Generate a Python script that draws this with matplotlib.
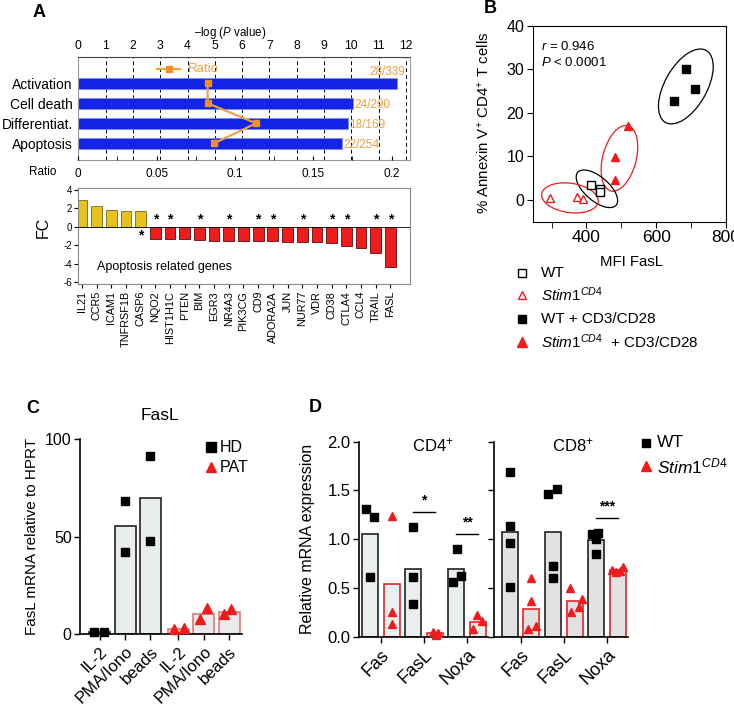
import matplotlib
matplotlib.use("Agg")
import matplotlib.pyplot as plt
import numpy as np
from matplotlib.lines import Line2D
from matplotlib.patches import Ellipse

plt.rcParams['font.family'] = ['Liberation Sans', 'DejaVu Sans']
plt.rcParams['mathtext.fontset'] = 'custom'
plt.rcParams['mathtext.rm'] = 'Liberation Sans'
plt.rcParams['mathtext.it'] = 'Liberation Sans:italic'
plt.rcParams['mathtext.bf'] = 'Liberation Sans:bold'
plt.rcParams['axes.unicode_minus'] = False

# ---- data: panel A (pathways) ----
pathways = ['Activation', 'Cell death', 'Differentiat.', 'Apoptosis']
neg_log_p = [11.67, 10.08, 9.88, 9.67]
ratio = [0.0826, 0.0826, 0.1135, 0.0867]
counts = ['28/339', '24/290', '18/169', '22/254']

# ---- data: panel A (apoptosis genes) ----
genes = ['IL21', 'CCR5', 'ICAM1', 'TNFRSF1B', 'CASP6', 'NQO2', 'HIST1H1C', 'PTEN',
         'BIM', 'EGR3', 'NR4A3', 'PIK3CG', 'CD9', 'ADORA2A', 'JUN', 'NUR77', 'VDR',
         'CD38', 'CTLA4', 'CCL4', 'TRAIL', 'FASL']
fc = [2.87, 2.29, 1.82, 1.75, 1.71, -1.35, -1.35, -1.35, -1.38, -1.49, -1.49, -1.53,
      -1.56, -1.56, -1.6, -1.6, -1.6, -1.78, -2.1, -2.33, -2.84, -4.4]
fc_sig = [0, 0, 0, 0, 1, 1, 1, 0, 1, 0, 1, 0, 1, 1, 0, 1, 0, 1, 1, 0, 1, 1]

# ---- data: panel B ----
wt_mfi, wt_ann = [412, 438, 438], [3.4, 2.5, 1.8]
ko_mfi, ko_ann = [295, 372, 390], [0.5, 0.6, 0.3]
wt_st_mfi, wt_st_ann = [652, 686, 712], [22.7, 30.2, 25.4]
ko_st_mfi, ko_st_ann = [481, 481, 519], [4.5, 9.8, 17.1]

# ---- data: panel C ----
c_labels = ['IL-2', 'PMA/Iono', 'beads']
c_hd = [[1.0, 1.0], [68.2, 42.3], [91.5, 47.9]]
c_pat = [[2.5, 3.0], [7.7, 13.6], [10.4, 12.8]]

# ---- data: panel D ----
d_genes = ['Fas', 'FasL', 'Noxa']
d_cd4_wt = [[1.31, 1.23, 0.615], [1.13, 0.61, 0.335], [0.896, 0.565, 0.62]]
d_cd4_ko = [[1.24, 0.256, 0.127], [0.05, 0.02, 0.04], [0.075, 0.22, 0.16]]
d_cd8_wt = [[1.686, 1.138, 0.964, 0.513], [1.46, 1.51, 0.725, 0.6], [1.05, 1.06, 1.0, 0.85]]
d_cd8_ko = [[0.6, 0.37, 0.076, 0.11], [0.496, 0.256, 0.308, 0.387], [0.68, 0.66, 0.67, 0.71]]

# point spread inside each bar (layout only)
c_hd_dx = [[-0.22, 0.17], [0, 0], [0, 0]]
c_pat_dx = [[-0.16, 0.21], [-0.16, 0.15], [-0.21, 0.09]]
d_cd4_wt_dx = [[-0.19, 0.19, 0], [0, 0, 0], [0.02, -0.17, 0.2]]
d_cd4_ko_dx = [[0, 0, 0], [-0.09, 0.05, 0.14], [-0.22, -0.05, 0.2]]
d_cd8_wt_dx = [[0, 0, 0, 0], [-0.21, 0.17, 0, 0], [-0.2, 0.1, 0, 0]]
d_cd8_ko_dx = [[0, 0, -0.17, 0.2], [-0.21, -0.18, 0.19, 0.36], [-0.28, -0.08, 0.11, 0.23]]

W, H = 734, 717
fig = plt.figure(figsize=(W / 100, H / 100), dpi=100)


def rect(l, t, r, b):
    return [l / W, 1 - b / H, (r - l) / W, (b - t) / H]


def fx(x):
    return x / W


def fy(y):
    return 1 - y / H


def legend_row(x_m, x_t, y, label, size, **mk):
    fig.add_artist(Line2D([fx(x_m)], [fy(y)], ls='none', transform=fig.transFigure, **mk))
    fig.text(fx(x_t), fy(y), label, fontsize=size, va='center', ha='left')


blue = '#1424e6'
orange = '#f0a040'
red = '#ee1c1c'
yellow = '#e6c31c'

# ================= Panel A (top) =================
ax_p = fig.add_axes(rect(78.3, 56.5, 410, 160))
ax_r = ax_p.twiny()
ypos = np.arange(len(pathways))
ax_p.barh(ypos, neg_log_p, height=0.55, color=blue, edgecolor='#7f8cf0', lw=0.6, zorder=2)
for v in range(1, 13):
    ax_p.axvline(v, ls=(0, (4, 3)), color='k', lw=0.7, zorder=0)
ax_p.set_xlim(0, 12.15)
ax_p.set_ylim(3.83, -1.33)
ax_p.xaxis.tick_top()
ax_p.set_xticks(range(13))
ax_p.tick_params(axis='x', length=0, pad=3, labelsize=8.8)
ax_p.set_yticks(ypos, pathways)
ax_p.tick_params(axis='y', length=0, pad=4, labelsize=10)
for s in ax_p.spines.values():
    s.set_color('#999999')
    s.set_linewidth(0.8)
ax_p.spines['top'].set_color('#444444')
for i, c in enumerate(counts):
    if i == 0:
        ax_p.text(neg_log_p[i] + 0.3, i - 0.58, c, color=orange, fontsize=8.5, ha='right', va='center')
    else:
        ax_p.text(neg_log_p[i] + 0.05, i + 0.07, c, color=orange, fontsize=8.5, ha='left', va='center')
fig.text(fx(230), fy(33), '\u2013log (' + r'$\it{P}$' + ' value)', fontsize=8.3, ha='center', va='center')

ax_r.plot(ratio, ypos, color=orange, marker='s', ms=4.5, lw=1.5, mfc='#f09020', mec='#f09020', zorder=3)
ax_r.set_xlim(0, 0.2118)
ax_r.xaxis.set_ticks_position('bottom')
ax_r.xaxis.set_label_position('bottom')
ax_r.set_xticks([0, 0.05, 0.1, 0.15, 0.2], ['0', '0.05', '0.1', '0.15', '0.2'])
ax_r.set_xticks([0.025, 0.075, 0.125, 0.175], minor=True)
ax_r.tick_params(axis='x', which='both', direction='in', length=3, labelsize=8.5, pad=6)
for s in ax_r.spines.values():
    s.set_visible(False)
fig.text(fx(43), fy(172), 'Ratio', fontsize=8.5, ha='center', va='center')
fig.add_artist(Line2D([fx(157), fx(180)], [fy(69), fy(69)], color=orange, lw=1.5,
                      transform=fig.transFigure))
fig.add_artist(Line2D([fx(168.5)], [fy(69)], ls='none', marker='s', ms=4.5, color='#f09020',
                      transform=fig.transFigure))
fig.text(fx(188), fy(69), 'Ratio', color=orange, fontsize=9.5, ha='left', va='center')

# ================= Panel A (bottom) =================
ax_fc = fig.add_axes(rect(77.7, 188, 410, 284))
xg = np.arange(len(genes))
fc_arr = np.array(fc)
cols = np.where(fc_arr > 0, yellow, red)
edges = np.where(fc_arr > 0, '#7a6a18', '#5a0c0c')
ax_fc.bar(xg, fc_arr, width=0.73, color=cols, edgecolor=edges, lw=0.6, zorder=2)
ax_fc.axhline(0, color='k', lw=0.6, zorder=3)
for i, s in enumerate(fc_sig):
    if s:
        ys = 0.75 if fc_arr[i] < 0 else -0.95
        ax_fc.text(i, ys, '*', fontsize=10, fontweight='bold', ha='center', va='center')
ax_fc.set_xlim(-0.29, 22.34)
ax_fc.set_ylim(-6.2, 4.2)
ax_fc.set_yticks([-6, -4, -2, 0, 2, 4])
ax_fc.tick_params(axis='y', direction='out', length=3, labelsize=7, pad=1)
ax_fc.set_xticks(xg, genes, rotation=90)
ax_fc.tick_params(axis='x', direction='out', length=3, labelsize=7.8, pad=2)
for s in ax_fc.spines.values():
    s.set_color('#888888')
    s.set_linewidth(0.8)
ax_fc.text(0.058, 0.177, 'Apoptosis related genes', transform=ax_fc.transAxes,
           fontsize=9, ha='left', va='center')
fig.text(fx(43), fy(227), 'FC', fontsize=11.5, rotation=90, ha='center', va='center')

# ================= Panel B =================
axB = fig.add_axes(rect(532.7, 26, 726, 221.7))
axB.set_xlim(246, 798)
axB.set_ylim(-5, 40)
axB.plot(wt_mfi, wt_ann, ls='none', marker='s', ms=6, mfc='white', mec='k', mew=1.0)
axB.plot(ko_mfi, ko_ann, ls='none', marker='^', ms=6, mfc='white', mec=red, mew=1.0)
axB.plot(wt_st_mfi, wt_st_ann, ls='none', marker='s', ms=5.5, color='k')
axB.plot(ko_st_mfi, ko_st_ann, ls='none', marker='^', ms=6, color=red)
to_ax = axB.transData + axB.transAxes.inverted()
groups = [(wt_st_mfi, wt_st_ann, 0.424, 0.217, 60, 'k', 0.0),
          (ko_st_mfi, ko_st_ann, 0.345, 0.173, 75, red, -0.02),
          (wt_mfi, wt_ann, 0.26, 0.124, -40, 'k', 0.0),
          (ko_mfi, ko_ann, 0.295, 0.15, -8, red, 0.0)]
for gx, gy, ew, eh, ang, ec, dy in groups:
    cx, cy = to_ax.transform((np.mean(gx), np.mean(gy)))
    axB.add_patch(Ellipse((cx, cy + dy), ew, eh, angle=ang, transform=axB.transAxes,
                          fill=False, ec=ec, lw=0.9))
axB.set_xticks([400, 600, 800])
axB.set_xticks([300, 500, 700], minor=True)
axB.set_yticks([0, 10, 20, 30, 40])
axB.tick_params(axis='x', which='both', direction='out', length=4, labelsize=12.5, pad=2)
axB.tick_params(axis='y', direction='out', length=4, labelsize=11.5, pad=2)
for s in axB.spines.values():
    s.set_linewidth(0.8)
axB.text(0.041, 0.894, r'$\it{r}$ = 0.946', transform=axB.transAxes, fontsize=9.5, va='center')
axB.text(0.041, 0.812, r'$\it{P}$ < 0.0001', transform=axB.transAxes, fontsize=9.5, va='center')
axB.set_ylabel('% Annexin V$^{+}$ CD4$^{+}$ T cells', fontsize=10.8)
axB.yaxis.set_label_coords(-0.212, 0.504)
axB.set_xlabel('MFI FasL', fontsize=10.8)
axB.xaxis.set_label_coords(0.512, -0.17)

legend_row(521.7, 540.7, 273.3, 'WT', 11, marker='s', ms=6, mfc='white', mec='k', mew=1.0)
legend_row(521.7, 540.7, 295.0, r'$\it{Stim1}^{\it{CD4}}$', 11, marker='^', ms=6, mfc='white', mec=red, mew=1.0)
legend_row(521.7, 540.7, 319.3, 'WT + CD3/CD28', 11, marker='s', ms=5.5, color='k')
legend_row(521.7, 540.7, 341.7, r'$\it{Stim1}^{\it{CD4}}$  + CD3/CD28', 11, marker='^', ms=6.5, color=red)

# ================= Panel C =================
axC = fig.add_axes(rect(80, 439, 241.7, 634.3))
c_pos_hd = np.array([0, 1, 2])
c_pos_pat = c_pos_hd + 3.1
axC.bar(c_pos_hd, [np.mean(v) for v in c_hd], width=0.83, color='#e9edeb', edgecolor='#222222', lw=1.2)
axC.bar(c_pos_pat, [np.mean(v) for v in c_pat], width=0.83, color='#ebebeb', edgecolor='#e07a7a', lw=1.2)
for p, vals, dx in zip(c_pos_hd, c_hd, c_hd_dx):
    axC.plot(p + np.array(dx), vals, ls='none', marker='s', ms=6, color='k', clip_on=False, zorder=4)
for p, vals, dx in zip(c_pos_pat, c_pat, c_pat_dx):
    axC.plot(p + np.array(dx), vals, ls='none', marker='^', ms=6.5, color=red, clip_on=False, zorder=4)
axC.set_xlim(-0.78, 5.6)
axC.set_ylim(0, 100)
axC.set_yticks([0, 50, 100])
axC.set_xticks(np.concatenate([c_pos_hd, c_pos_pat]), c_labels * 2, rotation=45,
               ha='right', rotation_mode='anchor')
axC.tick_params(axis='both', direction='out', length=4, width=1.0, labelsize=11.5, pad=2)
axC.tick_params(axis='x', labelsize=12, pad=3)
for k in ['top', 'right']:
    axC.spines[k].set_visible(False)
for k in ['left', 'bottom']:
    axC.spines[k].set_linewidth(1.2)
axC.set_ylabel('FasL mRNA relative to HPRT', fontsize=11)
axC.yaxis.set_label_coords(-0.254, 0.5)
fig.text(fx(160), fy(415), 'FasL', fontsize=12.5, ha='center', va='center')
legend_row(210.7, 220, 447.3, 'HD', 11.5, marker='s', ms=6.5, color='k')
legend_row(210.7, 220, 467.3, 'PAT', 11.5, marker='^', ms=7, color=red)


# ================= Panel D =================
def panel_d(rc, xlim, wt, ko, wt_dx, ko_dx, fill, show_labels):
    ax = fig.add_axes(rect(*rc))
    pw = np.arange(3) * 2
    pk = pw + 1
    ax.bar(pw, [np.mean(v) for v in wt], width=0.74, color=fill, edgecolor='#222222', lw=1.2)
    ax.bar(pk, [np.mean(v) for v in ko], width=0.74, color=fill, edgecolor='#e8242a', lw=1.2)
    for p, vals, dx in zip(pw, wt, wt_dx):
        ax.plot(p + np.array(dx), vals, ls='none', marker='s', ms=5.5, color='k', clip_on=False, zorder=4)
    for p, vals, dx in zip(pk, ko, ko_dx):
        ax.plot(p + np.array(dx), vals, ls='none', marker='^', ms=6, color=red, clip_on=False, zorder=4)
    ax.set_xlim(*xlim)
    ax.set_ylim(0, 2.0)
    ax.set_yticks([0, 0.5, 1.0, 1.5, 2.0])
    if show_labels:
        ax.set_yticklabels(['0.0', '0.5', '1.0', '1.5', '2.0'])
    else:
        ax.set_yticklabels([])
    ax.set_xticks(pw + 0.5, d_genes, rotation=45, ha='right', rotation_mode='anchor')
    ax.tick_params(axis='both', direction='out', length=4, width=1.0, labelsize=12, pad=2)
    ax.tick_params(axis='x', labelsize=13, pad=3)
    for k in ['top', 'right']:
        ax.spines[k].set_visible(False)
    for k in ['left', 'bottom']:
        ax.spines[k].set_linewidth(1.2)
    return ax


axD4 = panel_d((359, 441.7, 488.3, 636.7), (-0.51, 5.48), d_cd4_wt, d_cd4_ko,
               d_cd4_wt_dx, d_cd4_ko_dx, '#e9efec', True)
axD8 = panel_d((494, 441.7, 628.3, 636.7), (-0.73, 5.49), d_cd8_wt, d_cd8_ko,
               d_cd8_wt_dx, d_cd8_ko_dx, '#e2e2e2', False)
axD4.set_ylabel('Relative mRNA expression', fontsize=11.5)
axD4.yaxis.set_label_coords(-0.34, 0.5)
fig.text(fx(432.7), fy(445), 'CD4$^{+}$', fontsize=12, ha='center', va='center')
fig.text(fx(573.3), fy(445), 'CD8$^{+}$', fontsize=12, ha='center', va='center')


def sig(ax, x0, x1, y, stars):
    ax.plot([x0, x1], [y, y], color='k', lw=1.0)
    ax.text((x0 + x1) / 2, y + 0.05, stars, fontsize=10, fontweight='bold', ha='center', va='bottom')


sig(axD4, 2, 3, 1.28, '*')
sig(axD4, 4, 5, 1.05, '**')
sig(axD8, 4, 5, 1.215, '***')
legend_row(646, 656.7, 442.7, 'WT', 12.5, marker='s', ms=6, color='k')
legend_row(646, 656.7, 466, r'$\it{Stim1}^{\it{CD4}}$', 12.5, marker='^', ms=6.5, color=red)

# panel letters
for lab, x, y in [('A', 39, 12.7), ('B', 490.7, 8.3), ('C', 33, 408), ('D', 315, 407.7)]:
    fig.text(fx(x), fy(y), lab, fontsize=13, fontweight='bold', ha='center', va='center')

fig.savefig('out.png', dpi=100)
